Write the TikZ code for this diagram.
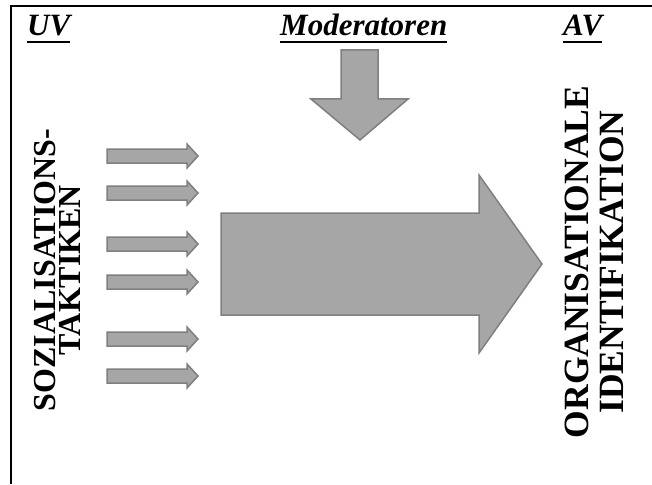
\documentclass[tikz,border=0pt]{standalone}
\usepackage{fontspec}
\setmainfont{Liberation Serif}
\definecolor{arrfill}{HTML}{A6A6A6}
\definecolor{arrline}{HTML}{7F7F7F}
\begin{document}
\begin{tikzpicture}[x=1pt,y=-1pt,
  hd/.style={font=\fontsize{31}{31}\selectfont\bfseries\itshape, inner sep=0pt, anchor=base west},
  ul/.style={line width=2.4pt},
  vtl/.style={font=\fontsize{32}{25}\selectfont\bfseries, inner sep=0pt, rotate=90, align=center},
  vtr/.style={font=\fontsize{35.5}{35}\selectfont\bfseries, inner sep=0pt, rotate=90, align=center},
  arrshape/.style={fill=arrfill, draw=arrline, line width=1.5pt, line join=miter}]
\useasboundingbox (0,0) rectangle (652,484);
\draw[line width=2.5pt] (11,484) -- (11,6) -- (652,6);
% headings
\node[hd] (uv) at (27,36) {UV};
\node[hd] (mod) at (280,36) {Moderatoren};
\node[hd] (av) at (563,36) {AV};
\foreach \n in {uv,mod,av}
  \draw[ul] ([yshift=-6pt]\n.base west) -- ([yshift=-6pt]\n.base east);
% small arrows
\foreach \yc in {156,193,244,282,339,376}
  \draw[arrshape] (107,\yc-7) -- (187,\yc-7) -- (187,\yc-12) -- (198,\yc) -- (187,\yc+12) -- (187,\yc+7) -- (107,\yc+7) -- cycle;
% big arrow
\draw[arrshape] (221,213) -- (479,213) -- (479,175) -- (542,264) -- (479,353) -- (479,315) -- (221,315) -- cycle;
% down arrow
\draw[arrshape] (341,50) -- (378,50) -- (378,99) -- (408,99) -- (360,140) -- (311,99) -- (341,99) -- cycle;
% vertical labels
\node[vtl] (uvt) at (57,270) {SOZIALISATIONS-\\TAKTIKEN};
\node[vtr] (avt) at (594,262) {ORGANISATIONALE\\IDENTIFIKATION};
\end{tikzpicture}
\end{document}
